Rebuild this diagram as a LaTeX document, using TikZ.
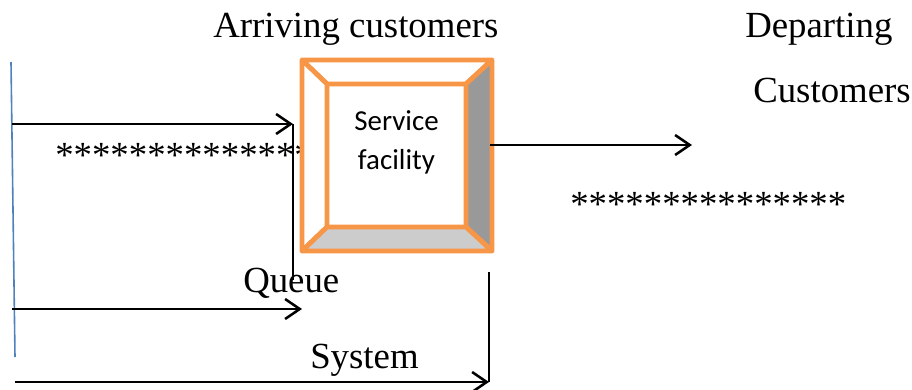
\documentclass[tikz,border=0pt]{standalone}
\usepackage{fontspec}
\setmainfont{Liberation Serif}
\newfontfamily\calfont{Carlito}
\usetikzlibrary{arrows.meta}
\definecolor{boxorange}{HTML}{F79646}
\definecolor{axisblue}{HTML}{4F81BD}
\begin{document}
\begin{tikzpicture}[x=0.75pt,y=-0.75pt,
  lbl/.style={inner sep=0pt,anchor=base west,font=\fontsize{27.6}{33}\selectfont},
  conn/.style={line width=1.9pt,-{Straight Barb[length=11pt,width=15pt,line width=1.9pt]}},
  plain/.style={line width=1.5pt},
  bevel/.style={draw=boxorange,line width=3.6pt,line join=round}]
\useasboundingbox (0,0) rectangle (912,389);
% coordinates
\coordinate (blueTop) at (11,62);
\coordinate (blueBot) at (15,357);
\coordinate (a1s) at (12,124);
\coordinate (a1e) at (293,124);
\coordinate (v1b) at (293,280);
\coordinate (a2s) at (12,309);
\coordinate (a2e) at (302,309);
\coordinate (a3s) at (15,382);
\coordinate (a3e) at (489,382);
\coordinate (v2t) at (489,272);
\coordinate (depE) at (692,145);
% texts
\node[lbl] (arr) at (213,37) {Arriving customers};
\node[lbl] (dep) at (745,37) {Departing};
\node[lbl] (cus) at (753,102) {Customers};
\node[lbl] (stl) at (55,167) {***************};
\node[lbl] (str) at (570,216) {***************};
\node[lbl] (que) at (243,292) {Queue};
\node[lbl] (sys) at (310,368) {System};
% lines
\draw[axisblue,line width=1.2pt] (blueTop) -- (blueBot);
\draw[conn] (a1s) -- (a1e);
\draw[plain] (a1e) -- (v1b);
\draw[conn] (a2s) -- (a2e);
\draw[plain] (v2t) -- (a3e);
\draw[conn] (a3s) -- (a3e);
% service facility box
\fill[white] (302,60) rectangle (492,251);
\draw[bevel,fill=white] (302,60) -- (492,60) -- (466,84) -- (327,84) -- cycle;
\draw[bevel,fill=white] (302,60) -- (327,84) -- (327,227) -- (302,251) -- cycle;
\draw[bevel,fill=black!40] (492,60) -- (466,84) -- (466,227) -- (492,251) -- cycle;
\draw[bevel,fill=black!20] (302,251) -- (327,227) -- (466,227) -- (492,251) -- cycle;
\node[bevel,draw=none,minimum width=139*0.75pt,minimum height=143*0.75pt,inner sep=0pt] (sf) at (396.5,155.5) {};
\node[inner sep=0pt,anchor=base,font=\calfont\fontsize{21.7}{29}\selectfont] (sf1) at (396.5,130) {Service};
\node[inner sep=0pt,anchor=base,font=\calfont\fontsize{21.7}{29}\selectfont] (sf2) at (396.5,169) {facility};
\coordinate (depS) at (490,145);
\draw[conn] (depS) -- (depE);
\end{tikzpicture}
\end{document}
